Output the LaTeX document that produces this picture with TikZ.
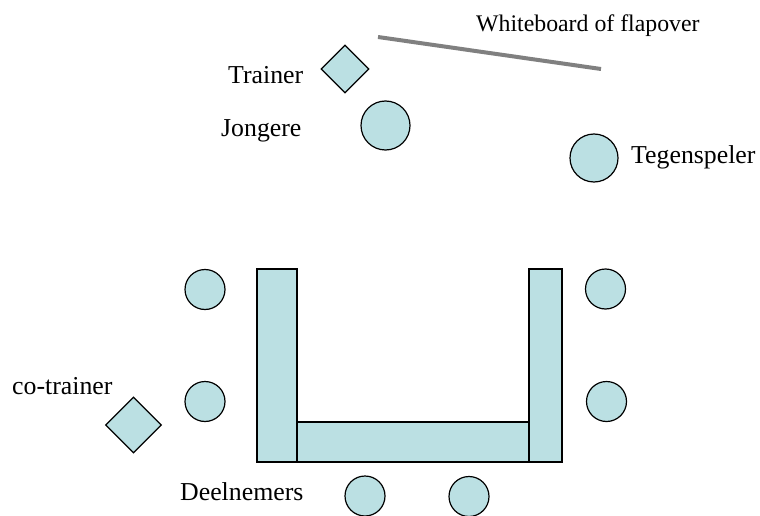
\documentclass[tikz,border=0pt]{standalone}
\usepackage{fontspec}
\setmainfont{Liberation Serif}
\usetikzlibrary{shapes.geometric}
\definecolor{seat}{HTML}{BBE0E3}
\tikzset{
  person/.style={circle, draw=black, fill=seat, line width=1.2pt, inner sep=0pt, minimum size=#1},
  person/.default=40pt,
  leader/.style={diamond, draw=black, fill=seat, line width=1.2pt, inner sep=0pt, minimum size=#1},
  tablebox/.style={draw=black, fill=seat, line width=1.1pt},
  lbl/.style={anchor=base west, inner sep=0pt, font=\fontsize{25.8}{30}\selectfont},
  wblbl/.style={anchor=base west, inner sep=0pt, font=\fontsize{23.8}{28}\selectfont},
  board/.style={draw=gray, line width=4pt}
}
\begin{document}
\begin{tikzpicture}[x=1pt,y=-1pt]
\useasboundingbox (0,0) rectangle (760,516);
% whiteboard
\coordinate (wb1) at (378,37);
\coordinate (wb2) at (601,69);
\draw[board] (wb1) -- (wb2);
\node[wblbl] (wbt) at (476,31.7) {Whiteboard of flapover};
% trainer
\node[leader=48pt] (trainer) at (345,69) {};
\node[lbl] (trainert) at (228,84) {Trainer};
% jongere
\node[person=49pt] (jongere) at (385.5,125.5) {};
\node[lbl] (jongeret) at (221,136) {Jongere};
% tegenspeler
\node[person=48pt] (tegen) at (594,158) {};
\node[lbl] (tegent) at (631,163) {Tegenspeler};
% tables
\draw[tablebox] (257,269) rectangle (297,462);
\draw[tablebox] (297,422) rectangle (529,462);
\draw[tablebox] (529,269) rectangle (562,462);
% participants
\node[person] (p1) at (205,289.5) {};
\node[person] (p2) at (205,401.5) {};
\node[person] (p3) at (605.5,289) {};
\node[person] (p4) at (606.5,401.5) {};
\node[person] (p5) at (365,496) {};
\node[person] (p6) at (469,496.5) {};
% co-trainer
\node[leader=56pt] (cotrainer) at (133.5,425) {};
\node[lbl] (cotrainert) at (12,394) {co-trainer};
\node[lbl] (deelt) at (180,500.7) {Deelnemers};
\end{tikzpicture}
\end{document}
